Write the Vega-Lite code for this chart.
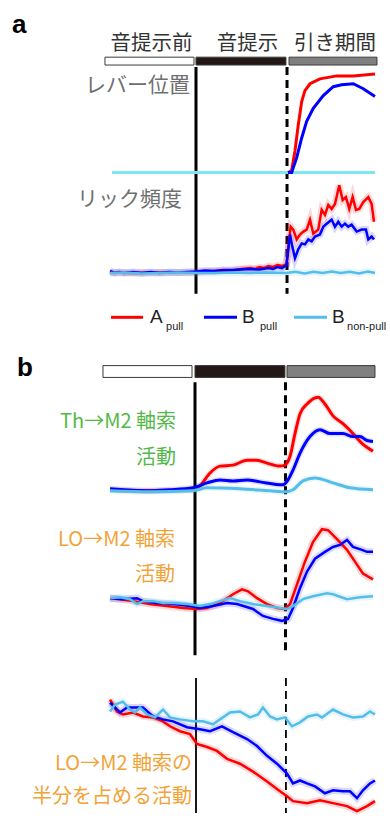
{
  "$schema": "https://vega.github.io/schema/vega-lite/v6.json",
  "width": 390,
  "height": 825,
  "autosize": {"type": "fit", "contains": "padding"},
  "padding": 0,
  "background": "white",
  "config": {"view": {"stroke": null}},
  "datasets": {
    "tr": [
      {"p":"lever","s":"A","t":1.017,"v":0},{"p":"lever","s":"A","t":1.057,"v":0.02},{"p":"lever","s":"A","t":1.094,"v":0.22},{"p":"lever","s":"A","t":1.130,"v":0.48},{"p":"lever","s":"A","t":1.168,"v":0.72},{"p":"lever","s":"A","t":1.204,"v":0.83},{"p":"lever","s":"A","t":1.260,"v":0.90},{"p":"lever","s":"A","t":1.370,"v":0.95},{"p":"lever","s":"A","t":1.555,"v":0.98},{"p":"lever","s":"A","t":1.738,"v":0.98},{"p":"lever","s":"A","t":1.978,"v":1.00},
      {"p":"lever","s":"B","t":1.017,"v":0},{"p":"lever","s":"B","t":1.057,"v":0},{"p":"lever","s":"B","t":1.113,"v":0.15},{"p":"lever","s":"B","t":1.168,"v":0.35},{"p":"lever","s":"B","t":1.223,"v":0.52},{"p":"lever","s":"B","t":1.296,"v":0.65},{"p":"lever","s":"B","t":1.407,"v":0.78},{"p":"lever","s":"B","t":1.517,"v":0.87},{"p":"lever","s":"B","t":1.610,"v":0.89},{"p":"lever","s":"B","t":1.738,"v":0.90},{"p":"lever","s":"B","t":1.849,"v":0.85},{"p":"lever","s":"B","t":1.978,"v":0.77},
      {"p":"lever","s":"Bn","t":-0.928,"v":0},{"p":"lever","s":"Bn","t":0,"v":0},{"p":"lever","s":"Bn","t":1,"v":0},{"p":"lever","s":"Bn","t":1.978,"v":0},

      {"p":"lick","s":"A","t":-0.95,"v":0.005},{"p":"lick","s":"A","t":-0.7,"v":0},{"p":"lick","s":"A","t":-0.4,"v":0.005},{"p":"lick","s":"A","t":0,"v":0.005},{"p":"lick","s":"A","t":0.2,"v":0.02},{"p":"lick","s":"A","t":0.4,"v":0.025},{"p":"lick","s":"A","t":0.5,"v":0.04},{"p":"lick","s":"A","t":0.6,"v":0.05},{"p":"lick","s":"A","t":0.65,"v":0.04},{"p":"lick","s":"A","t":0.7,"v":0.06},{"p":"lick","s":"A","t":0.75,"v":0.05},{"p":"lick","s":"A","t":0.8,"v":0.07},{"p":"lick","s":"A","t":0.85,"v":0.06},{"p":"lick","s":"A","t":0.9,"v":0.08},{"p":"lick","s":"A","t":0.95,"v":0.07},{"p":"lick","s":"A","t":1.0,"v":0.09},{"p":"lick","s":"A","t":1.046,"v":0.47},{"p":"lick","s":"A","t":1.075,"v":0.44},{"p":"lick","s":"A","t":1.113,"v":0.34},{"p":"lick","s":"A","t":1.149,"v":0.39},{"p":"lick","s":"A","t":1.186,"v":0.42},{"p":"lick","s":"A","t":1.223,"v":0.44},{"p":"lick","s":"A","t":1.260,"v":0.54},{"p":"lick","s":"A","t":1.296,"v":0.40},{"p":"lick","s":"A","t":1.351,"v":0.44},{"p":"lick","s":"A","t":1.389,"v":0.64},{"p":"lick","s":"A","t":1.425,"v":0.59},{"p":"lick","s":"A","t":1.462,"v":0.69},{"p":"lick","s":"A","t":1.499,"v":0.65},{"p":"lick","s":"A","t":1.536,"v":0.70},{"p":"lick","s":"A","t":1.583,"v":0.89},{"p":"lick","s":"A","t":1.621,"v":0.74},{"p":"lick","s":"A","t":1.657,"v":0.77},{"p":"lick","s":"A","t":1.694,"v":0.65},{"p":"lick","s":"A","t":1.731,"v":0.77},{"p":"lick","s":"A","t":1.768,"v":0.64},{"p":"lick","s":"A","t":1.804,"v":0.65},{"p":"lick","s":"A","t":1.849,"v":0.72},{"p":"lick","s":"A","t":1.904,"v":0.77},{"p":"lick","s":"A","t":1.941,"v":0.70},{"p":"lick","s":"A","t":1.967,"v":0.52},
      {"p":"lick","s":"B","t":-0.95,"v":0.02},{"p":"lick","s":"B","t":-0.9,"v":0},{"p":"lick","s":"B","t":-0.85,"v":0.01},{"p":"lick","s":"B","t":-0.8,"v":0},{"p":"lick","s":"B","t":-0.7,"v":0.01},{"p":"lick","s":"B","t":-0.6,"v":0},{"p":"lick","s":"B","t":-0.5,"v":0.01},{"p":"lick","s":"B","t":-0.4,"v":0},{"p":"lick","s":"B","t":-0.3,"v":0.01},{"p":"lick","s":"B","t":-0.2,"v":0.005},{"p":"lick","s":"B","t":-0.1,"v":0.01},{"p":"lick","s":"B","t":0,"v":0.015},{"p":"lick","s":"B","t":0.1,"v":0.025},{"p":"lick","s":"B","t":0.2,"v":0.02},{"p":"lick","s":"B","t":0.3,"v":0.03},{"p":"lick","s":"B","t":0.4,"v":0.03},{"p":"lick","s":"B","t":0.5,"v":0.035},{"p":"lick","s":"B","t":0.6,"v":0.04},{"p":"lick","s":"B","t":0.7,"v":0.035},{"p":"lick","s":"B","t":0.8,"v":0.05},{"p":"lick","s":"B","t":0.85,"v":0.04},{"p":"lick","s":"B","t":0.9,"v":0.06},{"p":"lick","s":"B","t":0.95,"v":0.05},{"p":"lick","s":"B","t":1.0,"v":0.08},{"p":"lick","s":"B","t":1.039,"v":0.39},{"p":"lick","s":"B","t":1.064,"v":0.27},{"p":"lick","s":"B","t":1.094,"v":0.15},{"p":"lick","s":"B","t":1.130,"v":0.24},{"p":"lick","s":"B","t":1.168,"v":0.30},{"p":"lick","s":"B","t":1.204,"v":0.29},{"p":"lick","s":"B","t":1.241,"v":0.34},{"p":"lick","s":"B","t":1.278,"v":0.32},{"p":"lick","s":"B","t":1.315,"v":0.37},{"p":"lick","s":"B","t":1.370,"v":0.39},{"p":"lick","s":"B","t":1.407,"v":0.47},{"p":"lick","s":"B","t":1.444,"v":0.50},{"p":"lick","s":"B","t":1.499,"v":0.54},{"p":"lick","s":"B","t":1.536,"v":0.47},{"p":"lick","s":"B","t":1.572,"v":0.52},{"p":"lick","s":"B","t":1.610,"v":0.47},{"p":"lick","s":"B","t":1.646,"v":0.50},{"p":"lick","s":"B","t":1.683,"v":0.47},{"p":"lick","s":"B","t":1.720,"v":0.49},{"p":"lick","s":"B","t":1.776,"v":0.42},{"p":"lick","s":"B","t":1.831,"v":0.44},{"p":"lick","s":"B","t":1.878,"v":0.44},{"p":"lick","s":"B","t":1.904,"v":0.34},{"p":"lick","s":"B","t":1.941,"v":0.37},{"p":"lick","s":"B","t":1.967,"v":0.34},
      {"p":"lick","s":"Bn","t":-0.95,"v":0},{"p":"lick","s":"Bn","t":-0.8,"v":0.005},{"p":"lick","s":"Bn","t":-0.6,"v":-0.005},{"p":"lick","s":"Bn","t":-0.4,"v":0},{"p":"lick","s":"Bn","t":-0.2,"v":0.005},{"p":"lick","s":"Bn","t":0,"v":0},{"p":"lick","s":"Bn","t":0.2,"v":0},{"p":"lick","s":"Bn","t":0.4,"v":0.005},{"p":"lick","s":"Bn","t":0.6,"v":0},{"p":"lick","s":"Bn","t":0.8,"v":0.005},{"p":"lick","s":"Bn","t":1.0,"v":0},{"p":"lick","s":"Bn","t":1.1,"v":0.012},{"p":"lick","s":"Bn","t":1.2,"v":-0.005},{"p":"lick","s":"Bn","t":1.3,"v":0.012},{"p":"lick","s":"Bn","t":1.4,"v":0},{"p":"lick","s":"Bn","t":1.5,"v":0.015},{"p":"lick","s":"Bn","t":1.6,"v":0},{"p":"lick","s":"Bn","t":1.7,"v":0.012},{"p":"lick","s":"Bn","t":1.8,"v":-0.005},{"p":"lick","s":"Bn","t":1.9,"v":0.015},{"p":"lick","s":"Bn","t":1.978,"v":0},

      {"p":"th","s":"A","t":-0.95,"v":0},{"p":"th","s":"A","t":-0.5,"v":-0.01},{"p":"th","s":"A","t":-0.033,"v":0},{"p":"th","s":"A","t":0.044,"v":0.04},{"p":"th","s":"A","t":0.155,"v":0.17},{"p":"th","s":"A","t":0.265,"v":0.24},{"p":"th","s":"A","t":0.409,"v":0.25},{"p":"th","s":"A","t":0.564,"v":0.30},{"p":"th","s":"A","t":0.674,"v":0.30},{"p":"th","s":"A","t":0.785,"v":0.27},{"p":"th","s":"A","t":0.928,"v":0.24},{"p":"th","s":"A","t":0.983,"v":0.25},{"p":"th","s":"A","t":1.039,"v":0.34},{"p":"th","s":"A","t":1.094,"v":0.57},{"p":"th","s":"A","t":1.149,"v":0.77},{"p":"th","s":"A","t":1.227,"v":0.87},{"p":"th","s":"A","t":1.348,"v":0.94},{"p":"th","s":"A","t":1.425,"v":0.87},{"p":"th","s":"A","t":1.514,"v":0.75},{"p":"th","s":"A","t":1.624,"v":0.67},{"p":"th","s":"A","t":1.735,"v":0.57},{"p":"th","s":"A","t":1.834,"v":0.47},{"p":"th","s":"A","t":1.956,"v":0.39},
      {"p":"th","s":"B","t":-0.95,"v":0.01},{"p":"th","s":"B","t":-0.7,"v":-0.005},{"p":"th","s":"B","t":-0.508,"v":-0.01},{"p":"th","s":"B","t":-0.3,"v":0},{"p":"th","s":"B","t":-0.033,"v":0.02},{"p":"th","s":"B","t":0.122,"v":0.07},{"p":"th","s":"B","t":0.265,"v":0.10},{"p":"th","s":"B","t":0.409,"v":0.09},{"p":"th","s":"B","t":0.564,"v":0.10},{"p":"th","s":"B","t":0.707,"v":0.08},{"p":"th","s":"B","t":0.961,"v":0.05},{"p":"th","s":"B","t":1.017,"v":0.10},{"p":"th","s":"B","t":1.072,"v":0.20},{"p":"th","s":"B","t":1.149,"v":0.37},{"p":"th","s":"B","t":1.260,"v":0.54},{"p":"th","s":"B","t":1.370,"v":0.61},{"p":"th","s":"B","t":1.481,"v":0.57},{"p":"th","s":"B","t":1.624,"v":0.57},{"p":"th","s":"B","t":1.735,"v":0.54},{"p":"th","s":"B","t":1.812,"v":0.54},{"p":"th","s":"B","t":1.890,"v":0.50},{"p":"th","s":"B","t":1.956,"v":0.49},
      {"p":"th","s":"Bn","t":-0.95,"v":-0.01},{"p":"th","s":"Bn","t":-0.508,"v":-0.02},{"p":"th","s":"Bn","t":-0.033,"v":-0.01},{"p":"th","s":"Bn","t":0.122,"v":0.02},{"p":"th","s":"Bn","t":0.486,"v":0.01},{"p":"th","s":"Bn","t":0.818,"v":-0.01},{"p":"th","s":"Bn","t":1.006,"v":-0.02},{"p":"th","s":"Bn","t":1.072,"v":0},{"p":"th","s":"Bn","t":1.182,"v":0.09},{"p":"th","s":"Bn","t":1.315,"v":0.12},{"p":"th","s":"Bn","t":1.514,"v":0.07},{"p":"th","s":"Bn","t":1.702,"v":0.02},{"p":"th","s":"Bn","t":1.956,"v":0},

      {"p":"lo","s":"A","t":-0.95,"v":0.03},{"p":"lo","s":"A","t":-0.840,"v":0.02},{"p":"lo","s":"A","t":-0.696,"v":0},{"p":"lo","s":"A","t":-0.508,"v":-0.03},{"p":"lo","s":"A","t":-0.320,"v":-0.05},{"p":"lo","s":"A","t":-0.144,"v":-0.07},{"p":"lo","s":"A","t":0.011,"v":-0.08},{"p":"lo","s":"A","t":0.122,"v":-0.07},{"p":"lo","s":"A","t":0.265,"v":-0.02},{"p":"lo","s":"A","t":0.409,"v":0.07},{"p":"lo","s":"A","t":0.508,"v":0.12},{"p":"lo","s":"A","t":0.575,"v":0.10},{"p":"lo","s":"A","t":0.674,"v":0.03},{"p":"lo","s":"A","t":0.785,"v":-0.03},{"p":"lo","s":"A","t":0.895,"v":-0.07},{"p":"lo","s":"A","t":0.983,"v":-0.08},{"p":"lo","s":"A","t":1.039,"v":-0.03},{"p":"lo","s":"A","t":1.116,"v":0.17},{"p":"lo","s":"A","t":1.204,"v":0.40},{"p":"lo","s":"A","t":1.293,"v":0.60},{"p":"lo","s":"A","t":1.392,"v":0.73},{"p":"lo","s":"A","t":1.459,"v":0.72},{"p":"lo","s":"A","t":1.558,"v":0.63},{"p":"lo","s":"A","t":1.669,"v":0.52},{"p":"lo","s":"A","t":1.779,"v":0.37},{"p":"lo","s":"A","t":1.845,"v":0.28},{"p":"lo","s":"A","t":1.956,"v":0.22},
      {"p":"lo","s":"B","t":-0.95,"v":0.03},{"p":"lo","s":"B","t":-0.807,"v":0.02},{"p":"lo","s":"B","t":-0.652,"v":0.03},{"p":"lo","s":"B","t":-0.586,"v":0},{"p":"lo","s":"B","t":-0.431,"v":-0.02},{"p":"lo","s":"B","t":-0.254,"v":-0.03},{"p":"lo","s":"B","t":-0.066,"v":-0.05},{"p":"lo","s":"B","t":0.044,"v":-0.07},{"p":"lo","s":"B","t":0.188,"v":-0.05},{"p":"lo","s":"B","t":0.343,"v":-0.02},{"p":"lo","s":"B","t":0.453,"v":-0.03},{"p":"lo","s":"B","t":0.630,"v":-0.08},{"p":"lo","s":"B","t":0.740,"v":-0.15},{"p":"lo","s":"B","t":0.851,"v":-0.18},{"p":"lo","s":"B","t":0.950,"v":-0.20},{"p":"lo","s":"B","t":1.017,"v":-0.18},{"p":"lo","s":"B","t":1.072,"v":-0.07},{"p":"lo","s":"B","t":1.149,"v":0.13},{"p":"lo","s":"B","t":1.227,"v":0.30},{"p":"lo","s":"B","t":1.315,"v":0.43},{"p":"lo","s":"B","t":1.425,"v":0.50},{"p":"lo","s":"B","t":1.514,"v":0.55},{"p":"lo","s":"B","t":1.591,"v":0.57},{"p":"lo","s":"B","t":1.669,"v":0.62},{"p":"lo","s":"B","t":1.735,"v":0.55},{"p":"lo","s":"B","t":1.834,"v":0.52},{"p":"lo","s":"B","t":1.890,"v":0.50},{"p":"lo","s":"B","t":1.956,"v":0.50},
      {"p":"lo","s":"Bn","t":-0.95,"v":0.03},{"p":"lo","s":"Bn","t":-0.840,"v":0.04},{"p":"lo","s":"Bn","t":-0.729,"v":0.02},{"p":"lo","s":"Bn","t":-0.652,"v":-0.03},{"p":"lo","s":"Bn","t":-0.586,"v":0},{"p":"lo","s":"Bn","t":-0.475,"v":0},{"p":"lo","s":"Bn","t":-0.365,"v":-0.02},{"p":"lo","s":"Bn","t":-0.254,"v":-0.02},{"p":"lo","s":"Bn","t":-0.099,"v":-0.03},{"p":"lo","s":"Bn","t":0.044,"v":-0.05},{"p":"lo","s":"Bn","t":0.155,"v":-0.03},{"p":"lo","s":"Bn","t":0.265,"v":0},{"p":"lo","s":"Bn","t":0.376,"v":0.03},{"p":"lo","s":"Bn","t":0.486,"v":0},{"p":"lo","s":"Bn","t":0.630,"v":-0.03},{"p":"lo","s":"Bn","t":0.785,"v":-0.05},{"p":"lo","s":"Bn","t":0.928,"v":-0.07},{"p":"lo","s":"Bn","t":1.006,"v":-0.08},{"p":"lo","s":"Bn","t":1.072,"v":-0.05},{"p":"lo","s":"Bn","t":1.182,"v":0.02},{"p":"lo","s":"Bn","t":1.293,"v":0.05},{"p":"lo","s":"Bn","t":1.448,"v":0.08},{"p":"lo","s":"Bn","t":1.514,"v":0.07},{"p":"lo","s":"Bn","t":1.669,"v":0.02},{"p":"lo","s":"Bn","t":1.812,"v":0.04},{"p":"lo","s":"Bn","t":1.956,"v":0.05},

      {"p":"half","s":"A","t":-0.95,"v":0.15},{"p":"half","s":"A","t":-0.873,"v":0.03},{"p":"half","s":"A","t":-0.807,"v":0},{"p":"half","s":"A","t":-0.696,"v":0.02},{"p":"half","s":"A","t":-0.586,"v":-0.02},{"p":"half","s":"A","t":-0.475,"v":-0.03},{"p":"half","s":"A","t":-0.365,"v":-0.07},{"p":"half","s":"A","t":-0.287,"v":-0.12},{"p":"half","s":"A","t":-0.177,"v":-0.17},{"p":"half","s":"A","t":-0.066,"v":-0.20},{"p":"half","s":"A","t":0.011,"v":-0.30},{"p":"half","s":"A","t":0.122,"v":-0.33},{"p":"half","s":"A","t":0.232,"v":-0.37},{"p":"half","s":"A","t":0.343,"v":-0.45},{"p":"half","s":"A","t":0.486,"v":-0.50},{"p":"half","s":"A","t":0.630,"v":-0.58},{"p":"half","s":"A","t":0.785,"v":-0.68},{"p":"half","s":"A","t":0.928,"v":-0.78},{"p":"half","s":"A","t":1.006,"v":-0.83},{"p":"half","s":"A","t":1.072,"v":-0.88},{"p":"half","s":"A","t":1.227,"v":-0.90},{"p":"half","s":"A","t":1.370,"v":-0.87},{"p":"half","s":"A","t":1.514,"v":-0.90},{"p":"half","s":"A","t":1.669,"v":-0.93},{"p":"half","s":"A","t":1.779,"v":-0.98},{"p":"half","s":"A","t":1.890,"v":-0.93},{"p":"half","s":"A","t":1.978,"v":-0.88},
      {"p":"half","s":"B","t":-0.95,"v":0.12},{"p":"half","s":"B","t":-0.840,"v":0.02},{"p":"half","s":"B","t":-0.762,"v":0.07},{"p":"half","s":"B","t":-0.652,"v":0.07},{"p":"half","s":"B","t":-0.586,"v":0.07},{"p":"half","s":"B","t":-0.475,"v":-0.02},{"p":"half","s":"B","t":-0.365,"v":-0.05},{"p":"half","s":"B","t":-0.254,"v":-0.07},{"p":"half","s":"B","t":-0.099,"v":-0.13},{"p":"half","s":"B","t":0.044,"v":-0.15},{"p":"half","s":"B","t":0.155,"v":-0.17},{"p":"half","s":"B","t":0.287,"v":-0.12},{"p":"half","s":"B","t":0.409,"v":-0.18},{"p":"half","s":"B","t":0.564,"v":-0.25},{"p":"half","s":"B","t":0.674,"v":-0.32},{"p":"half","s":"B","t":0.785,"v":-0.42},{"p":"half","s":"B","t":0.895,"v":-0.50},{"p":"half","s":"B","t":1.006,"v":-0.60},{"p":"half","s":"B","t":1.072,"v":-0.70},{"p":"half","s":"B","t":1.149,"v":-0.67},{"p":"half","s":"B","t":1.227,"v":-0.70},{"p":"half","s":"B","t":1.315,"v":-0.73},{"p":"half","s":"B","t":1.425,"v":-0.80},{"p":"half","s":"B","t":1.514,"v":-0.77},{"p":"half","s":"B","t":1.624,"v":-0.78},{"p":"half","s":"B","t":1.702,"v":-0.78},{"p":"half","s":"B","t":1.779,"v":-0.85},{"p":"half","s":"B","t":1.845,"v":-0.77},{"p":"half","s":"B","t":1.923,"v":-0.70},{"p":"half","s":"B","t":1.978,"v":-0.67},
      {"p":"half","s":"Bn","t":-0.95,"v":0.03},{"p":"half","s":"Bn","t":-0.895,"v":0.10},{"p":"half","s":"Bn","t":-0.807,"v":0.13},{"p":"half","s":"Bn","t":-0.729,"v":0.05},{"p":"half","s":"Bn","t":-0.674,"v":0.02},{"p":"half","s":"Bn","t":-0.619,"v":0.07},{"p":"half","s":"Bn","t":-0.541,"v":0},{"p":"half","s":"Bn","t":-0.453,"v":-0.03},{"p":"half","s":"Bn","t":-0.365,"v":0.05},{"p":"half","s":"Bn","t":-0.287,"v":-0.03},{"p":"half","s":"Bn","t":-0.177,"v":-0.05},{"p":"half","s":"Bn","t":-0.033,"v":-0.07},{"p":"half","s":"Bn","t":0.077,"v":-0.07},{"p":"half","s":"Bn","t":0.188,"v":-0.10},{"p":"half","s":"Bn","t":0.265,"v":-0.05},{"p":"half","s":"Bn","t":0.376,"v":0.02},{"p":"half","s":"Bn","t":0.486,"v":0.03},{"p":"half","s":"Bn","t":0.597,"v":-0.03},{"p":"half","s":"Bn","t":0.685,"v":0},{"p":"half","s":"Bn","t":0.740,"v":0.07},{"p":"half","s":"Bn","t":0.818,"v":-0.02},{"p":"half","s":"Bn","t":0.895,"v":-0.05},{"p":"half","s":"Bn","t":0.983,"v":-0.03},{"p":"half","s":"Bn","t":1.061,"v":-0.12},{"p":"half","s":"Bn","t":1.149,"v":-0.08},{"p":"half","s":"Bn","t":1.238,"v":-0.02},{"p":"half","s":"Bn","t":1.337,"v":0},{"p":"half","s":"Bn","t":1.392,"v":-0.03},{"p":"half","s":"Bn","t":1.514,"v":0.05},{"p":"half","s":"Bn","t":1.624,"v":0},{"p":"half","s":"Bn","t":1.735,"v":-0.03},{"p":"half","s":"Bn","t":1.845,"v":-0.02},{"p":"half","s":"Bn","t":1.923,"v":0.03},{"p":"half","s":"Bn","t":1.978,"v":0}
    ],
    "bars": [
      {"fig":"a","phase":"pre","t1":-1.006,"t2":-0.022,"y1":5.8,"y2":6.6},
      {"fig":"a","phase":"cue","t1":0.0,"t2":0.994,"y1":5.8,"y2":6.6},
      {"fig":"a","phase":"pull","t1":1.028,"t2":2.0,"y1":5.8,"y2":6.6},
      {"fig":"b","phase":"pre","t1":-1.028,"t2":-0.044,"y1":37.1,"y2":38.3},
      {"fig":"b","phase":"cue","t1":-0.011,"t2":0.983,"y1":37.1,"y2":38.3},
      {"fig":"b","phase":"pull","t1":1.006,"t2":1.978,"y1":37.1,"y2":38.3}
    ],
    "vr": [
      {"fig":"a","kind":"cue","t":0,"y1":6.8,"y2":29.8},
      {"fig":"a","kind":"pull","t":1.006,"y1":6.8,"y2":29.8},
      {"fig":"b","kind":"cue","t":-0.011,"y1":38.8,"y2":66.5},
      {"fig":"b","kind":"pull","t":0.989,"y1":38.8,"y2":66.5},
      {"fig":"c","kind":"cue","t":0,"y1":68.8,"y2":82.5},
      {"fig":"c","kind":"pull","t":0.994,"y1":68.8,"y2":82.5}
    ],
    "leg": [
      {"s":"A","t1":-0.939,"t2":-0.586,"y":32.2},
      {"s":"B","t1":0.088,"t2":0.453,"y":32.2},
      {"s":"Bn","t1":1.083,"t2":1.448,"y":32.2}
    ],
    "txt": [
      {"g":"letter","label":"a","t":-2.033,"y":3.3},
      {"g":"letter","label":"b","t":-1.978,"y":38.2},
      {"g":"head","label":"音提示前","t":-0.492,"y":4.5},
      {"g":"head","label":"音提示","t":0.569,"y":4.5},
      {"g":"head","label":"引き期間","t":1.536,"y":4.5},
      {"g":"gray","label":"レバー位置","t":-0.066,"y":8.7},
      {"g":"gray","label":"リック頻度","t":-0.155,"y":20.3},
      {"g":"green","label":"Th→M2 軸索","t":-0.221,"y":42.85},
      {"g":"green","label":"活動","t":-0.221,"y":46.5},
      {"g":"orange","label":"LO→M2 軸索","t":-0.232,"y":54.75},
      {"g":"orange","label":"活動","t":-0.232,"y":58.35},
      {"g":"orange","label":"LO→M2 軸索の","t":-0.044,"y":77.5},
      {"g":"orange","label":"半分を占める活動","t":-0.044,"y":80.9},
      {"g":"big","label":"A","t":-0.508,"y":32.8},
      {"g":"big","label":"B","t":0.508,"y":32.8},
      {"g":"big","label":"B","t":1.503,"y":32.8},
      {"g":"sub","label":"pull","t":-0.331,"y":33.5},
      {"g":"sub","label":"pull","t":0.707,"y":33.5},
      {"g":"sub","label":"non-pull","t":1.669,"y":33.5}
    ]
  },
  "layer": [
    {
      "layer": [
        {"data": {"name": "bars"}, "mark": {"type": "rect", "stroke": "#3a3a3a", "strokeWidth": 1},
         "encoding": {
           "x": {"field": "t1", "type": "quantitative", "scale": {"domain": [-2.166, 2.144], "nice": false, "zero": false}, "axis": null},
           "x2": {"field": "t2"},
           "y": {"field": "y1", "type": "quantitative", "scale": {"domain": [0, 82.5], "reverse": true, "nice": false, "zero": false}, "axis": null},
           "y2": {"field": "y2"},
           "fill": {"field": "phase", "type": "nominal", "scale": {"domain": ["pre", "cue", "pull"], "range": ["#ffffff", "#231815", "#808080"]}, "legend": null}
         }},
        {"data": {"name": "vr"}, "transform": [{"filter": "datum.fig != 'c'"}], "mark": {"type": "rule", "strokeWidth": 3, "color": "#000000"},
         "encoding": {
           "x": {"field": "t", "type": "quantitative", "scale": {"domain": [-2.166, 2.144], "nice": false, "zero": false}, "axis": null},
           "y": {"field": "y1", "type": "quantitative", "axis": null},
           "y2": {"field": "y2"},
           "strokeDash": {"field": "kind", "type": "nominal", "scale": {"domain": ["cue", "pull"], "range": [[1, 0], [8, 5]]}, "legend": null}
         }},
        {"data": {"name": "vr"}, "transform": [{"filter": "datum.fig == 'c'"}], "mark": {"type": "rule", "strokeWidth": 1.8, "color": "#000000"},
         "encoding": {
           "x": {"field": "t", "type": "quantitative", "axis": null},
           "y": {"field": "y1", "type": "quantitative", "axis": null},
           "y2": {"field": "y2"},
           "strokeDash": {"field": "kind", "type": "nominal", "legend": null}
         }},
        {"data": {"name": "leg"}, "mark": {"type": "rule", "strokeWidth": 3},
         "encoding": {
           "x": {"field": "t1", "type": "quantitative", "axis": null},
           "x2": {"field": "t2"},
           "y": {"field": "y", "type": "quantitative", "axis": null},
           "color": {"field": "s", "type": "nominal", "scale": {"domain": ["A", "B", "Bn"], "range": ["#ff0000", "#0000ff", "#55bde9"]}, "legend": null}
         }},
        {"data": {"name": "txt"}, "transform": [{"filter": "datum.g == 'letter'"}],
         "mark": {"type": "text", "font": "Liberation Sans", "fontWeight": "bold", "fontSize": 26, "align": "left", "baseline": "alphabetic", "color": "#000000"},
         "encoding": {"x": {"field": "t", "type": "quantitative", "axis": null}, "y": {"field": "y", "type": "quantitative", "axis": null}, "text": {"field": "label"}}},
        {"data": {"name": "txt"}, "transform": [{"filter": "datum.g == 'head'"}],
         "mark": {"type": "text", "font": "Noto Sans CJK JP", "fontSize": 20.5, "align": "center", "baseline": "middle", "color": "#333333"},
         "encoding": {"x": {"field": "t", "type": "quantitative", "axis": null}, "y": {"field": "y", "type": "quantitative", "axis": null}, "text": {"field": "label"}}},
        {"data": {"name": "txt"}, "transform": [{"filter": "datum.g == 'gray'"}],
         "mark": {"type": "text", "font": "Noto Sans CJK JP", "fontSize": 21, "align": "right", "baseline": "middle", "color": "#707070"},
         "encoding": {"x": {"field": "t", "type": "quantitative", "axis": null}, "y": {"field": "y", "type": "quantitative", "axis": null}, "text": {"field": "label"}}},
        {"data": {"name": "txt"}, "transform": [{"filter": "datum.g == 'green'"}],
         "mark": {"type": "text", "font": "Noto Sans CJK JP", "fontSize": 20, "align": "right", "baseline": "middle", "color": "#52b947"},
         "encoding": {"x": {"field": "t", "type": "quantitative", "axis": null}, "y": {"field": "y", "type": "quantitative", "axis": null}, "text": {"field": "label"}}},
        {"data": {"name": "txt"}, "transform": [{"filter": "datum.g == 'orange'"}],
         "mark": {"type": "text", "font": "Noto Sans CJK JP", "fontSize": 20, "align": "right", "baseline": "middle", "color": "#f2a338"},
         "encoding": {"x": {"field": "t", "type": "quantitative", "axis": null}, "y": {"field": "y", "type": "quantitative", "axis": null}, "text": {"field": "label"}}},
        {"data": {"name": "txt"}, "transform": [{"filter": "datum.g == 'big'"}],
         "mark": {"type": "text", "font": "Liberation Sans", "fontSize": 19, "align": "left", "baseline": "alphabetic", "color": "#222222"},
         "encoding": {"x": {"field": "t", "type": "quantitative", "axis": null}, "y": {"field": "y", "type": "quantitative", "axis": null}, "text": {"field": "label"}}},
        {"data": {"name": "txt"}, "transform": [{"filter": "datum.g == 'sub'"}],
         "mark": {"type": "text", "font": "Liberation Sans", "fontSize": 11, "align": "left", "baseline": "alphabetic", "color": "#222222"},
         "encoding": {"x": {"field": "t", "type": "quantitative", "axis": null}, "y": {"field": "y", "type": "quantitative", "axis": null}, "text": {"field": "label"}}}
      ]
    },
    {
      "data": {"name": "tr"},
      "transform": [{"filter": "datum.p == 'lever'"}],
      "encoding": {
        "x": {"field": "t", "type": "quantitative", "axis": null},
        "y": {"field": "v", "type": "quantitative", "scale": {"domain": [-6.5, 1.75], "nice": false, "zero": false}, "axis": null}
      },
      "layer": [
        {"transform": [{"filter": "datum.s == 'Bn'"}], "mark": {"type": "line", "strokeWidth": 3, "color": "#7ee6f0"}},
        {"transform": [{"filter": "datum.s != 'Bn'"}], "mark": {"type": "line", "strokeWidth": 3}, "encoding": {"color": {"field": "s", "type": "nominal", "legend": null}}}
      ]
    },
    {
      "data": {"name": "tr"},
      "transform": [{"filter": "datum.p == 'lick'"}],
      "encoding": {
        "x": {"field": "t", "type": "quantitative", "axis": null},
        "y": {"field": "v", "type": "quantitative", "scale": {"domain": [-5.48, 2.77], "nice": false, "zero": false}, "axis": null},
        "color": {"field": "s", "type": "nominal", "legend": null}
      },
      "layer": [
        {"mark": {"type": "line", "strokeWidth": 7, "opacity": 0.15}},
        {"transform": [{"filter": "datum.s != 'Bn'"}], "mark": {"type": "line", "strokeWidth": 2.5}},
        {"transform": [{"filter": "datum.s == 'Bn'"}], "mark": {"type": "line", "strokeWidth": 2.5}}
      ]
    },
    {
      "data": {"name": "tr"},
      "transform": [{"filter": "datum.p == 'th'"}],
      "encoding": {
        "x": {"field": "t", "type": "quantitative", "axis": null},
        "y": {"field": "v", "type": "quantitative", "scale": {"domain": [-3.28, 4.97], "nice": false, "zero": false}, "axis": null},
        "color": {"field": "s", "type": "nominal", "legend": null}
      },
      "layer": [
        {"mark": {"type": "line", "strokeWidth": 6, "opacity": 0.12, "interpolate": "monotone"}},
        {"transform": [{"filter": "datum.s != 'Bn'"}], "mark": {"type": "line", "strokeWidth": 3, "interpolate": "monotone"}},
        {"transform": [{"filter": "datum.s == 'Bn'"}], "mark": {"type": "line", "strokeWidth": 3, "interpolate": "monotone"}}
      ]
    },
    {
      "data": {"name": "tr"},
      "transform": [{"filter": "datum.p == 'lo'"}],
      "encoding": {
        "x": {"field": "t", "type": "quantitative", "axis": null},
        "y": {"field": "v", "type": "quantitative", "scale": {"domain": [-2.15, 6.10], "nice": false, "zero": false}, "axis": null},
        "color": {"field": "s", "type": "nominal", "legend": null}
      },
      "layer": [
        {"mark": {"type": "line", "strokeWidth": 7, "opacity": 0.15}},
        {"transform": [{"filter": "datum.s != 'Bn'"}], "mark": {"type": "line", "strokeWidth": 2.5}},
        {"transform": [{"filter": "datum.s == 'Bn'"}], "mark": {"type": "line", "strokeWidth": 2.5}}
      ]
    },
    {
      "data": {"name": "tr"},
      "transform": [{"filter": "datum.p == 'half'"}],
      "encoding": {
        "x": {"field": "t", "type": "quantitative", "axis": null},
        "y": {"field": "v", "type": "quantitative", "scale": {"domain": [-1.0, 7.25], "nice": false, "zero": false}, "axis": null},
        "color": {"field": "s", "type": "nominal", "legend": null}
      },
      "layer": [
        {"mark": {"type": "line", "strokeWidth": 7, "opacity": 0.15}},
        {"transform": [{"filter": "datum.s != 'Bn'"}], "mark": {"type": "line", "strokeWidth": 2.5}},
        {"transform": [{"filter": "datum.s == 'Bn'"}], "mark": {"type": "line", "strokeWidth": 2.5}}
      ]
    }
  ],
  "resolve": {"scale": {"y": "independent"}}
}
